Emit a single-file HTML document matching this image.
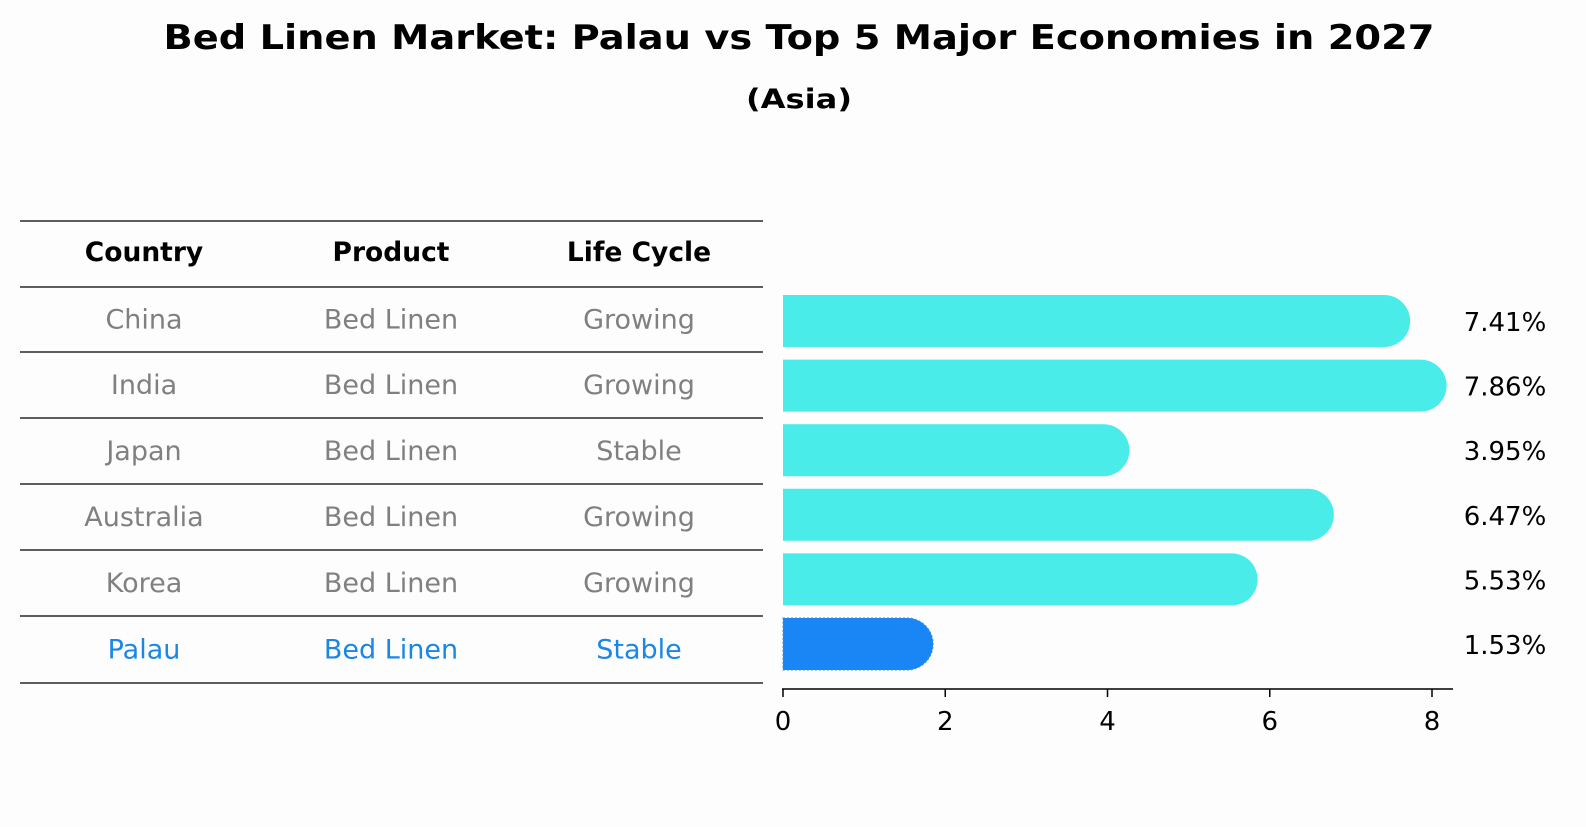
<!DOCTYPE html>
<html><head><meta charset="utf-8"><style>
body{margin:0;background:#fdfdfd;font-family:"DejaVu Sans","Liberation Sans",sans-serif}
</style></head><body>
<svg width="1586" height="823" xmlns="http://www.w3.org/2000/svg" font-family="DejaVu Sans, Liberation Sans, sans-serif">
<rect width="1586" height="823" fill="#fdfdfd"/>
<text x="799" y="49" text-anchor="middle" font-size="34" font-weight="bold" textLength="1271" lengthAdjust="spacingAndGlyphs">Bed Linen Market: Palau vs Top 5 Major Economies in 2027</text>
<text x="799" y="108" text-anchor="middle" font-size="27" font-weight="bold" textLength="106" lengthAdjust="spacingAndGlyphs">(Asia)</text>
<g id="table"></g>
<g id="bars"></g>
</svg>
<script>
const countries=["China","India","Japan","Australia","Korea","Palau"];
const products=["Bed Linen","Bed Linen","Bed Linen","Bed Linen","Bed Linen","Bed Linen"];
const cycles=["Growing","Growing","Stable","Growing","Growing","Stable"];
const values=[7.41,7.86,3.95,6.47,5.53,1.53];
const ticks=[0,2,4,6,8];
const NS="http://www.w3.org/2000/svg";
function mk(p,t,a,txt){const e=document.createElementNS(NS,t);for(const k in a)e.setAttribute(k,a[k]);if(txt!==undefined)e.textContent=txt;p.appendChild(e);return e;}
const tbl=document.getElementById('table');
const lines=[221,287,352,418,484,550,616,683];
lines.forEach(y=>{const l=mk(tbl,'line',{x1:20,x2:763,y1:y,y2:y,stroke:'#000','stroke-width':1.2});

});
const cx=[144,391,639];
["Country","Product","Life Cycle"].forEach((h,i)=>{const t=mk(tbl,'text',{x:cx[i],y:261,'text-anchor':'middle','font-size':26.5,'font-weight':'bold'},h);

});
countries.forEach((c,r)=>{const y=(lines[r+1]+lines[r+2])/2+9;const col=r===5?'#1a86e6':'#808080';
[c,products[r],cycles[r]].forEach((v,i)=>{const t=mk(tbl,'text',{x:cx[i],y:y,'text-anchor':'middle','font-size':27},v);
t.setAttribute('fill',col);

});});
const bars=document.getElementById('bars');
const x0=783,sc=(1432-783)/8;const X=v=>x0+v*sc;
const Y=i=>321+i*64.6;const h=52,r=26;
values.forEach((v,i)=>{const y=Y(i);const xe=X(v);const col=i===5?'#1a86f5':'#4aecea';
const p=mk(bars,'path',{d:`M${x0},${y-h/2} L${xe},${y-h/2} A${r},${r} 0 0 1 ${xe},${y+h/2} L${x0},${y+h/2} Z`,fill:col});
if(i===5){p.setAttribute('stroke','#3a8fe0');p.setAttribute('stroke-dasharray','2,2');p.setAttribute('stroke-width','1');}


const t=mk(bars,'text',{x:1505,y:y+10,'text-anchor':'middle','font-size':26},v.toFixed(2)+'%');

});
const ax=mk(bars,'line',{x1:782,x2:1453,y1:689,y2:689,stroke:'#000','stroke-width':1.5});


ticks.forEach(v=>{const l=mk(bars,'line',{x1:X(v),x2:X(v),y1:689,y2:697,stroke:'#000','stroke-width':1.5});


const t=mk(bars,'text',{x:X(v),y:730,'text-anchor':'middle','font-size':26},String(v));

});
</script>
</body></html>
